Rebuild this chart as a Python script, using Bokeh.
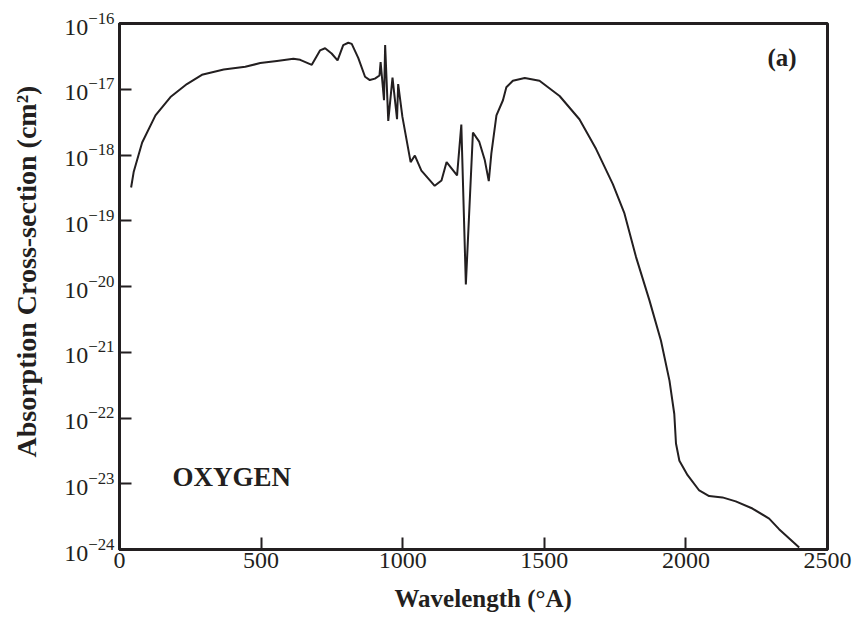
from bokeh.plotting import figure
from bokeh.models import FixedTicker, Label, Range1d, LogTickFormatter, Title
from bokeh.embed import file_html
from bokeh.resources import INLINE

# ---- data ----
wavelength = [41, 50, 80, 127, 180, 238, 291, 368, 444, 497, 556, 614, 638, 679,
              708, 726, 749, 770, 790, 808, 820, 843, 867, 884, 902, 918, 922, 934,
              938, 949, 964, 980, 984, 999, 1028, 1043, 1066, 1113, 1137, 1155, 1192,
              1207, 1223, 1248, 1270, 1290, 1304, 1313, 1331, 1354, 1366, 1389, 1431,
              1483, 1554, 1624, 1683, 1742, 1783, 1824, 1871, 1912, 1942, 1959, 1965,
              1977, 2006, 2047, 2082, 2129, 2176, 2235, 2294, 2329, 2400]
cross_section = [3.2e-19, 5.5e-19, 1.55e-18, 4.0e-18, 7.6e-18, 1.2e-17, 1.66e-17, 2.0e-17,
                 2.2e-17, 2.5e-17, 2.7e-17, 2.9e-17, 2.8e-17, 2.35e-17, 3.9e-17, 4.2e-17,
                 3.5e-17, 2.75e-17, 4.7e-17, 5.1e-17, 4.9e-17, 3.0e-17, 1.55e-17, 1.38e-17,
                 1.45e-17, 1.62e-17, 2.6e-17, 6.8e-18, 4.7e-17, 3.3e-18, 1.5e-17, 3.5e-18,
                 1.2e-17, 3.8e-18, 7.8e-19, 9.8e-19, 5.8e-19, 3.4e-19, 4.1e-19, 7.8e-19,
                 4.9e-19, 2.9e-18, 1.07e-20, 2.2e-18, 1.6e-18, 8.3e-19, 4.0e-19, 1.05e-18,
                 4.0e-18, 6.8e-18, 1.07e-17, 1.35e-17, 1.48e-17, 1.35e-17, 7.9e-18, 3.5e-18,
                 1.23e-18, 3.6e-19, 1.29e-19, 2.8e-20, 6.2e-21, 1.5e-21, 3.7e-22, 1.15e-22,
                 4.1e-23, 2.24e-23, 1.35e-23, 7.9e-24, 6.5e-24, 6.2e-24, 5.4e-24, 4.2e-24,
                 2.95e-24, 2.04e-24, 1.07e-24]
x_ticks = [0, 500, 1000, 1500, 2000, 2500]
y_exponents = [-24, -23, -22, -21, -20, -19, -18, -17, -16]

INK = "#231f20"
SERIF = "Liberation Serif"

p = figure(width=853, height=625,
           x_range=Range1d(0, 2500), y_range=Range1d(1e-24, 1e-16),
           y_axis_type="log", output_backend="svg", toolbar_location=None,
           min_border_left=119, min_border_right=26,
           min_border_top=23, min_border_bottom=76)
p.grid.visible = False
p.background_fill_color = "white"
p.border_fill_color = "white"
p.outline_line_color = INK
p.outline_line_width = 3
p.outline_line_alpha = 1.0

p.line(wavelength, cross_section, line_color=INK, line_width=2)

# axes
for ax in (p.xaxis[0], p.yaxis[0]):
    ax.axis_line_color = INK
    ax.axis_line_width = 3
    ax.major_tick_line_color = INK
    ax.major_tick_line_width = 2
    ax.major_tick_in = 12
    ax.major_tick_out = 0
    ax.minor_tick_line_color = None
    ax.major_label_text_font = SERIF
    ax.major_label_text_font_size = "24px"
    ax.major_label_text_color = INK

p.xaxis.ticker = FixedTicker(ticks=x_ticks)
p.xaxis.major_label_standoff = 3

p.yaxis.ticker = FixedTicker(ticks=[10.0 ** e for e in y_exponents], minor_ticks=[])
p.yaxis.formatter = LogTickFormatter()
p.yaxis.major_label_standoff = 5

# spacers between the axes and their titles
p.add_layout(Title(text=" ", text_font_size="1px", standoff=17), "left")
p.add_layout(Title(text=" ", text_font_size="1px", standoff=9), "below")

# axis titles as side titles (offset along the axis)
ytitle = Title(text="Absorption Cross-section (cm\u00b2)", align="left", offset=92,
               text_font=SERIF, text_font_style="bold", text_font_size="28px",
               text_color=INK, standoff=0)
p.add_layout(ytitle, "left")
xtitle = Title(text="Wavelength (\u00b0A)", align="left", offset=275,
               text_font=SERIF, text_font_style="bold", text_font_size="25px",
               text_color=INK, standoff=0)
p.add_layout(xtitle, "below")

# annotations
p.add_layout(Label(x=2288, y=10 ** -16.52, text="(a)", text_align="left",
                   text_baseline="alphabetic", text_font=SERIF,
                   text_font_style="bold", text_font_size="25px", text_color=INK))
p.add_layout(Label(x=187, y=10 ** -22.89, text="OXYGEN", text_align="left",
                   text_baseline="alphabetic", text_font=SERIF,
                   text_font_style="bold", text_font_size="27px", text_color=INK))

open("out.html", "w").write(file_html(p, INLINE))
